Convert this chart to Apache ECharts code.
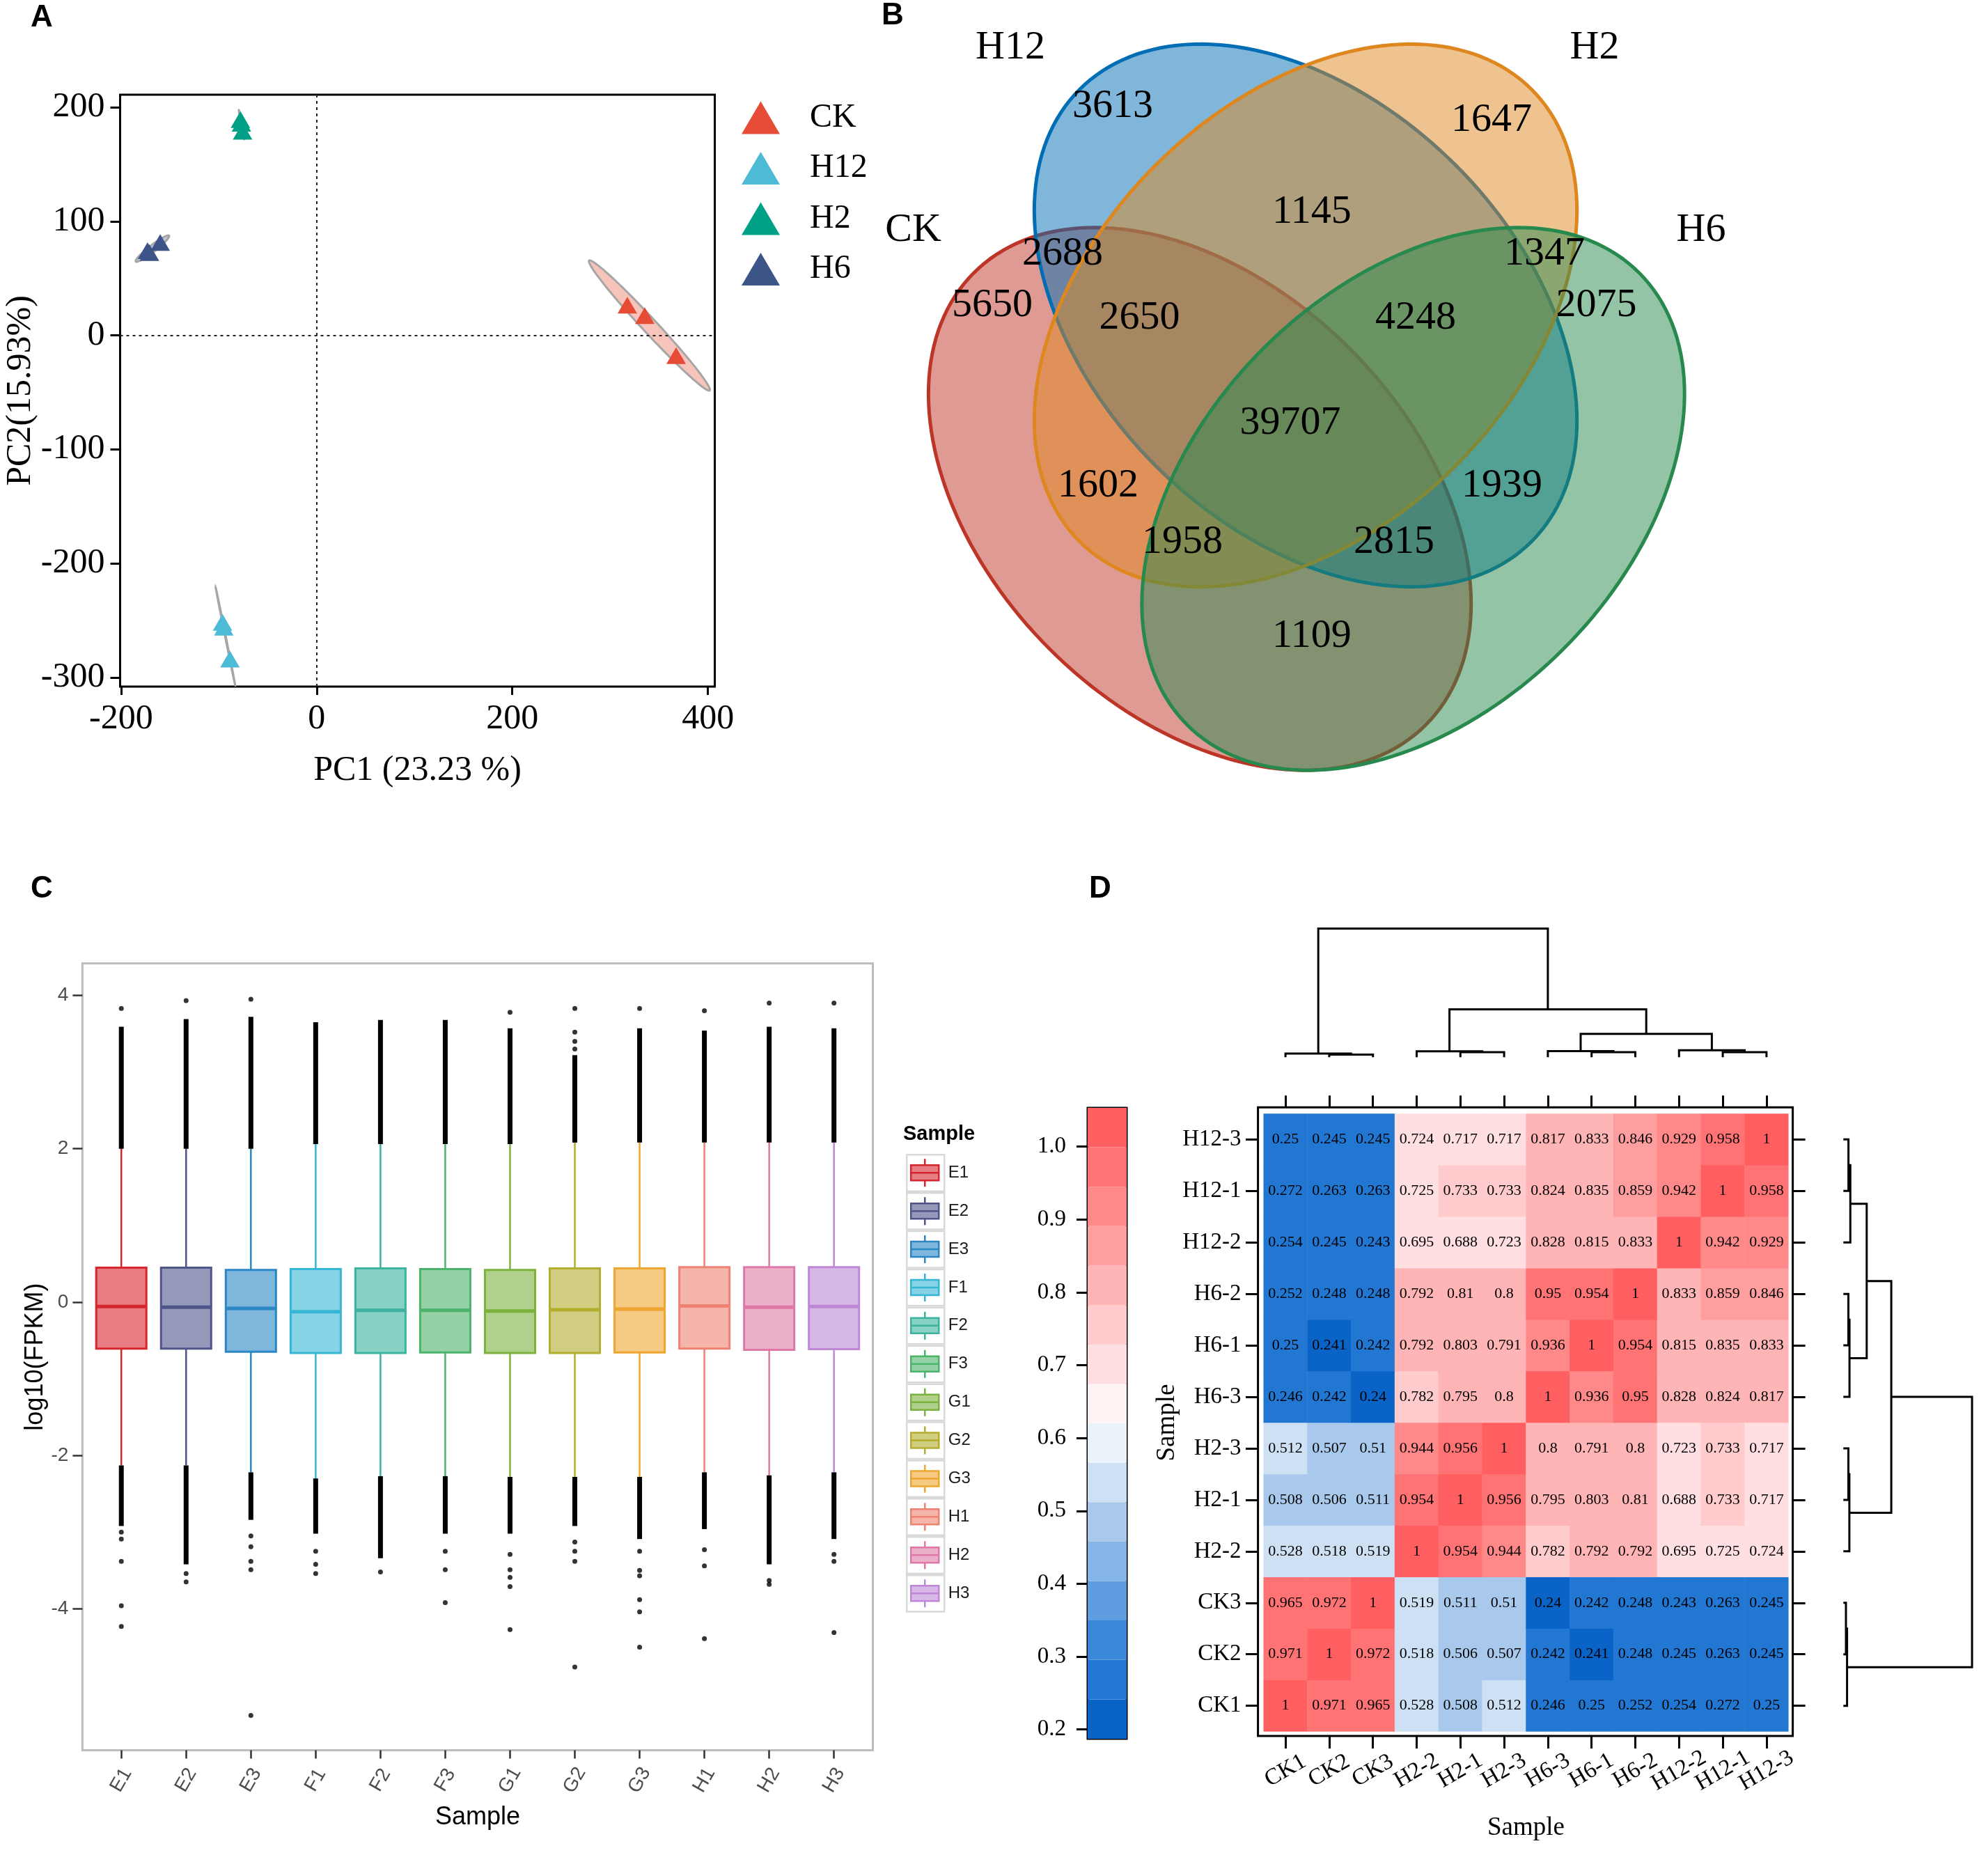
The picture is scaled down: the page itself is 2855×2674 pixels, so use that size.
<!DOCTYPE html>
<html><head><meta charset="utf-8">
<script src="https://cdn.jsdelivr.net/npm/echarts@6/dist/echarts.min.js"></script>
<style>html,body{margin:0;padding:0;background:#fff;}#main{width:2855px;height:2674px;}</style>
</head><body><div id="main"></div>
<script>
// ---------------- Panel A : PCA ----------------
const pcaGroups = ['CK', 'H12', 'H2', 'H6'];
const pcaCK  = [[317.6, 26.4], [335.4, 17.3], [367.5, -17.8]];
const pcaH12 = [[-96.3, -251.7], [-95.0, -256.0], [-88.7, -283.9]];
const pcaH2  = [[-78.0, 189.2], [-77.0, 186.0], [-75.8, 179.0]];
const pcaH6  = [[-173.0, 74.2], [-171.0, 72.5], [-160.0, 81.4]];
const pcaXTicks = [-200, 0, 200, 400];
const pcaYTicks = [-300, -200, -100, 0, 100, 200];
const pcaXName = 'PC1 (23.23 %)';
const pcaYName = 'PC2(15.93%)';

// ---------------- Panel B : Venn ----------------
const vennSets = ['CK', 'H12', 'H2', 'H6'];
const vennRegions = ['H12', 'H2', 'H12&H2', 'CK&H12', 'H2&H6', 'CK', 'CK&H12&H2', 'H12&H2&H6', 'H6',
  'CK&H12&H2&H6', 'CK&H2', 'H12&H6', 'CK&H2&H6', 'CK&H12&H6', 'CK&H6'];
const vennCounts = [3613, 1647, 1145, 2688, 1347, 5650, 2650, 4248, 2075, 39707, 1602, 1939, 1958, 2815, 1109];

// ---------------- Panel C : boxplot ----------------
const boxSamples = ['E1', 'E2', 'E3', 'F1', 'F2', 'F3', 'G1', 'G2', 'G3', 'H1', 'H2', 'H3'];
const boxLowWhisker  = [-2.13, -2.13, -2.22, -2.30, -2.27, -2.27, -2.28, -2.28, -2.28, -2.22, -2.26, -2.22];
const boxQ1          = [-0.606, -0.606, -0.647, -0.664, -0.664, -0.656, -0.664, -0.664, -0.656, -0.606, -0.622, -0.614];
const boxMedian      = [-0.058, -0.066, -0.083, -0.125, -0.108, -0.108, -0.116, -0.100, -0.091, -0.050, -0.066, -0.058];
const boxQ3          = [0.448, 0.448, 0.420, 0.430, 0.440, 0.430, 0.420, 0.440, 0.440, 0.456, 0.456, 0.456];
const boxHighWhisker = [2.00, 2.00, 2.00, 2.06, 2.06, 2.06, 2.06, 2.08, 2.08, 2.08, 2.08, 2.08];
const boxDenseHigh   = [3.59, 3.69, 3.72, 3.65, 3.68, 3.68, 3.57, 3.22, 3.57, 3.54, 3.59, 3.57];
const boxDenseLow    = [-2.92, -3.42, -2.84, -3.02, -3.34, -3.02, -3.02, -2.92, -3.09, -2.96, -3.42, -3.09];
const boxOutliers = [
  [0, 3.83], [0, -3.00], [0, -3.09], [0, -3.38], [0, -3.96], [0, -4.23],
  [1, 3.93], [1, -3.54], [1, -3.65],
  [2, 3.95], [2, -3.05], [2, -3.19], [2, -3.38], [2, -3.49], [2, -5.39],
  [3, -3.25], [3, -3.42], [3, -3.54],
  [4, -3.52],
  [5, -3.25], [5, -3.49], [5, -3.92],
  [6, 3.78], [6, -3.29], [6, -3.49], [6, -3.59], [6, -3.71], [6, -4.27],
  [7, 3.83], [7, 3.52], [7, 3.40], [7, 3.30], [7, -3.13], [7, -3.25], [7, -3.38], [7, -4.76],
  [8, 3.83], [8, -3.25], [8, -3.50], [8, -3.57], [8, -3.88], [8, -4.04], [8, -4.50],
  [9, 3.80], [9, -3.23], [9, -3.44], [9, -4.39],
  [10, 3.90], [10, -3.63], [10, -3.68],
  [11, 3.90], [11, -3.29], [11, -3.38], [11, -4.31]
];
const boxYTicks = [-4, -2, 0, 2, 4];

// ---------------- Panel D : correlation heatmap ----------------
const corrSamples = ['CK1', 'CK2', 'CK3', 'H2-2', 'H2-1', 'H2-3', 'H6-3', 'H6-1', 'H6-2', 'H12-2', 'H12-1', 'H12-3'];
// rows listed bottom (CK1) to top (H12-3); columns in corrSamples order
const corrCK1  = [1, 0.971, 0.965, 0.528, 0.508, 0.512, 0.246, 0.25, 0.252, 0.254, 0.272, 0.25];
const corrCK2  = [0.971, 1, 0.972, 0.518, 0.506, 0.507, 0.242, 0.241, 0.248, 0.245, 0.263, 0.245];
const corrCK3  = [0.965, 0.972, 1, 0.519, 0.511, 0.51, 0.24, 0.242, 0.248, 0.243, 0.263, 0.245];
const corrH2_2 = [0.528, 0.518, 0.519, 1, 0.954, 0.944, 0.782, 0.792, 0.792, 0.695, 0.725, 0.724];
const corrH2_1 = [0.508, 0.506, 0.511, 0.954, 1, 0.956, 0.795, 0.803, 0.81, 0.688, 0.733, 0.717];
const corrH2_3 = [0.512, 0.507, 0.51, 0.944, 0.956, 1, 0.8, 0.791, 0.8, 0.723, 0.733, 0.717];
const corrH6_3 = [0.246, 0.242, 0.24, 0.782, 0.795, 0.8, 1, 0.936, 0.95, 0.828, 0.824, 0.817];
const corrH6_1 = [0.25, 0.241, 0.242, 0.792, 0.803, 0.791, 0.936, 1, 0.954, 0.815, 0.835, 0.833];
const corrH6_2 = [0.252, 0.248, 0.248, 0.792, 0.81, 0.8, 0.95, 0.954, 1, 0.833, 0.859, 0.846];
const corrH12_2 = [0.254, 0.245, 0.243, 0.695, 0.688, 0.723, 0.828, 0.815, 0.833, 1, 0.942, 0.929];
const corrH12_1 = [0.272, 0.263, 0.263, 0.725, 0.733, 0.733, 0.824, 0.835, 0.859, 0.942, 1, 0.958];
const corrH12_3 = [0.25, 0.245, 0.245, 0.724, 0.717, 0.717, 0.817, 0.833, 0.846, 0.929, 0.958, 1];
const corrBreaks = [0.1873, 0.2414, 0.2955, 0.3497, 0.4038, 0.4579, 0.5120, 0.5661, 0.6202, 0.6744,
  0.7285, 0.7826, 0.8367, 0.8909, 0.9450, 0.9991, 1.0532];
const corrTicks = [0.2, 0.3, 0.4, 0.5, 0.6, 0.7, 0.8, 0.9, 1.0];
// hierarchical clustering: [childA, childB, height]; leaves 0..11 = corrSamples, merges numbered from 12
const dendroMerges = [
  [1, 2, 3.7], [0, 12, 5.3], [4, 5, 7.2], [3, 14, 8.6], [7, 8, 7.2], [6, 16, 8.8],
  [10, 11, 7.3], [9, 18, 10.0], [17, 19, 33.5], [15, 20, 68.8], [13, 21, 184.8]
];

// ================= styles / layout =================
const SERIF = 'Liberation Serif';
const SANS = 'Liberation Sans';
const pcaColors = ['#E64B35', '#4DBBD5', '#00A087', '#3C5488'];
const vennColors = ['#BD3527', '#006DB5', '#DF871F', '#27894D'];
const boxColors = ['#D7262E', '#4F5489', '#2A86C5', '#35B6D5', '#3BB39F', '#4CB36A', '#7CB23E', '#B3AE2D', '#EEA631', '#EF8372', '#DE79A7', '#BE88D6'];
const bandColors = ['#0A64C8', '#2277D3', '#3B88D9', '#5E9DDF', '#85B4E6', '#A9C9EC', '#CEE0F3', '#EAF2FA',
  '#FFF3F3', '#FFDFE1', '#FFCBCC', '#FFB4B5', '#FF9E9F', '#FF8889', '#FF7374', '#FF5F60'];
// Venn template geometry (normalized panel units)
const vennGeom = {
  CK: [0.3647, 0.6004, 45], H12: [0.4957, 0.3733, 45], H2: [0.4957, 0.3733, -45], H6: [0.6289, 0.6004, -45]
};
const vennAxes = [0.3957, 0.2629];
const vennSetLabelPos = { H12: [0.1302, 0.0422], H2: [0.8534, 0.0422], CK: [0.010, 0.2681], H6: [0.9853, 0.2681] };
const vennRegionPos = {
  'H12': [0.2569, 0.1147], 'H2': [0.7259, 0.1319], 'H12&H2': [0.5034, 0.2457], 'CK&H12': [0.1948, 0.2974],
  'H2&H6': [0.7914, 0.2974], 'CK': [0.1078, 0.3612], 'CK&H12&H2': [0.2901, 0.3767], 'H12&H2&H6': [0.6319, 0.3767],
  'H6': [0.8556, 0.3612], 'CK&H12&H2&H6': [0.4767, 0.5069], 'CK&H2': [0.2388, 0.5845], 'H12&H6': [0.7388, 0.5845],
  'CK&H2&H6': [0.3431, 0.6543], 'CK&H12&H6': [0.6052, 0.6543], 'CK&H6': [0.5034, 0.7707]
};

function rgba(hex, a) {
  const n = parseInt(hex.slice(1), 16);
  return 'rgba(' + ((n >> 16) & 255) + ',' + ((n >> 8) & 255) + ',' + (n & 255) + ',' + a + ')';
}

// 95% normal confidence ellipse from a set of points
function ellipseFromPoints(pts, k, n) {
  const m = pts.length;
  let mx = 0, my = 0;
  pts.forEach(p => { mx += p[0]; my += p[1]; });
  mx /= m; my /= m;
  let sxx = 0, syy = 0, sxy = 0;
  pts.forEach(p => { const dx = p[0] - mx, dy = p[1] - my; sxx += dx * dx; syy += dy * dy; sxy += dx * dy; });
  sxx /= (m - 1); syy /= (m - 1); sxy /= (m - 1);
  const tr = (sxx + syy) / 2, d = Math.sqrt(((sxx - syy) / 2) ** 2 + sxy * sxy);
  const l1 = tr + d, l2 = Math.max(tr - d, 0);
  const ang = 0.5 * Math.atan2(2 * sxy, sxx - syy);
  const out = [];
  for (let i = 0; i < n; i++) {
    const t = 2 * Math.PI * i / n;
    const ex = k * Math.sqrt(l1) * Math.cos(t), ey = k * Math.sqrt(l2) * Math.sin(t);
    out.push([mx + ex * Math.cos(ang) - ey * Math.sin(ang), my + ex * Math.sin(ang) + ey * Math.cos(ang)]);
  }
  return out;
}

const pcaPoints = [pcaCK, pcaH12, pcaH2, pcaH6];
const corrMatrix = [corrCK1, corrCK2, corrCK3, corrH2_2, corrH2_1, corrH2_3, corrH6_3, corrH6_1, corrH6_2, corrH12_2, corrH12_1, corrH12_3];

function dendroSegments(merges, nLeaves) {
  const pos = [], hgt = [];
  for (let i = 0; i < nLeaves; i++) { pos[i] = i; hgt[i] = 0; }
  return merges.map((m, j) => {
    const a = m[0], b = m[1], h = m[2], id = nLeaves + j;
    pos[id] = (pos[a] + pos[b]) / 2; hgt[id] = h;
    return [pos[a], hgt[a], pos[b], hgt[b], h];
  });
}
const dendroSegs = dendroSegments(dendroMerges, corrSamples.length);

const series = [];
// ---- A: ellipses
series.push({
  type: 'custom', name: 'pca-ellipse', xAxisIndex: 0, yAxisIndex: 0, clip: true, z: 2, silent: true,
  data: pcaGroups.map((g, i) => [i]),
  renderItem: function (params, api) {
    const gi = api.value(0);
    const pts = ellipseFromPoints(pcaPoints[gi], 2.4477, 120).map(p => api.coord(p));
    return { type: 'polygon', shape: { points: pts }, style: { fill: rgba(pcaColors[gi], 0.33), stroke: '#A6A6A6', lineWidth: 3 } };
  }
});
pcaGroups.forEach((g, i) => {
  const s = {
    type: 'scatter', name: g, xAxisIndex: 0, yAxisIndex: 0, symbol: 'triangle', symbolSize: [28, 24], z: 3,
    itemStyle: { color: pcaColors[i], opacity: 1 }, data: pcaPoints[i]
  };
  if (i === 0) {
    s.markLine = {
      silent: true, symbol: ['none', 'none'], label: { show: false },
      lineStyle: { type: [4, 5], color: '#222', width: 2 },
      data: [{ xAxis: 0 }, { yAxis: 0 }]
    };
  }
  series.push(s);
});

// ---- B: Venn
series.push({
  type: 'custom', name: 'venn-ellipses', xAxisIndex: 1, yAxisIndex: 1, silent: true, z: 2,
  data: vennSets.map((s, i) => [i]),
  renderItem: function (params, api) {
    const si = api.value(0);
    const g = vennGeom[vennSets[si]];
    const th = g[2] * Math.PI / 180;
    const pts = [];
    for (let i = 0; i < 180; i++) {
      const t = 2 * Math.PI * i / 180;
      const ex = vennAxes[0] * Math.cos(t), ey = vennAxes[1] * Math.sin(t);
      pts.push(api.coord([g[0] + ex * Math.cos(th) - ey * Math.sin(th), g[1] + ex * Math.sin(th) + ey * Math.cos(th)]));
    }
    return { type: 'polygon', shape: { points: pts }, style: { fill: rgba(vennColors[si], 0.5), stroke: vennColors[si], lineWidth: 5 } };
  }
});
series.push({
  type: 'custom', name: 'venn-text', xAxisIndex: 1, yAxisIndex: 1, silent: true, z: 5,
  data: vennRegions.map((r, i) => [vennRegionPos[r][0], vennRegionPos[r][1], vennCounts[i]])
    .concat(vennSets.map(s => [vennSetLabelPos[s][0], vennSetLabelPos[s][1], s])),
  renderItem: function (params, api) {
    const p = api.coord([api.value(0), api.value(1)]);
    const item = params.dataIndex < vennRegions.length ? String(vennCounts[params.dataIndex]) : vennSets[params.dataIndex - vennRegions.length];
    return { type: 'text', x: p[0], y: p[1], style: { text: item, font: '58px "' + SERIF + '"', fill: '#000', align: 'center', verticalAlign: 'middle' } };
  }
});

// ---- C: boxplots
boxSamples.forEach((s, i) => {
  const col = boxColors[i];
  series.push({
    type: 'custom', name: s, xAxisIndex: 2, yAxisIndex: 2, z: 3,
    itemStyle: { color: rgba(col, 0.6), borderColor: col, borderWidth: 2.5 },
    data: [[i + 1, boxLowWhisker[i], boxQ1[i], boxMedian[i], boxQ3[i], boxHighWhisker[i], boxDenseLow[i], boxDenseHigh[i]]],
    renderItem: function (params, api) {
      const x = api.value(0);
      const pLo = api.coord([x, api.value(1)]), pQ1 = api.coord([x, api.value(2)]), pMed = api.coord([x, api.value(3)]);
      const pQ3 = api.coord([x, api.value(4)]), pHi = api.coord([x, api.value(5)]);
      const pDLo = api.coord([x, api.value(6)]), pDHi = api.coord([x, api.value(7)]);
      const w = api.size([0.774, 0])[0];
      const cx = pMed[0];
      return {
        type: 'group', children: [
          { type: 'line', shape: { x1: cx, y1: pQ3[1], x2: cx, y2: pHi[1] }, style: { stroke: col, lineWidth: 2.5 } },
          { type: 'line', shape: { x1: cx, y1: pQ1[1], x2: cx, y2: pLo[1] }, style: { stroke: col, lineWidth: 2.5 } },
          { type: 'rect', shape: { x: cx - 3.5, y: pDHi[1], width: 7, height: pHi[1] - pDHi[1] }, style: { fill: '#000' } },
          { type: 'rect', shape: { x: cx - 3.5, y: pLo[1], width: 7, height: pDLo[1] - pLo[1] }, style: { fill: '#000' } },
          { type: 'rect', shape: { x: cx - w / 2, y: pQ3[1], width: w, height: pQ1[1] - pQ3[1] }, style: { fill: rgba(col, 0.6), stroke: col, lineWidth: 3 } },
          { type: 'line', shape: { x1: cx - w / 2, y1: pMed[1], x2: cx + w / 2, y2: pMed[1] }, style: { stroke: col, lineWidth: 5 } }
        ]
      };
    }
  });
});
series.push({
  type: 'scatter', name: 'outliers', xAxisIndex: 2, yAxisIndex: 2, symbol: 'circle', symbolSize: 7, z: 4, silent: true,
  itemStyle: { color: '#000' }, data: boxOutliers.map(o => [o[0] + 1, o[1]])
});

// ---- D: heatmap + dendrograms + colour bar
const heatData = [];
corrMatrix.forEach((row, r) => row.forEach((v, c) => heatData.push([c, r, v])));
const heatIndex = series.length;
series.push({
  type: 'heatmap', xAxisIndex: 4, yAxisIndex: 4, data: heatData, z: 3,
  itemStyle: { borderWidth: 0 },
  label: { show: true, fontSize: 22, fontFamily: SERIF, color: '#000', formatter: p => String(p.value[2]) },
  emphasis: { disabled: true }
});
series.push({
  type: 'custom', name: 'dendro-top', xAxisIndex: 6, yAxisIndex: 6, silent: true, data: dendroSegs,
  renderItem: function (params, api) {
    const a = api.value(0), ha = api.value(1), b = api.value(2), hb = api.value(3), h = api.value(4);
    return { type: 'polyline', shape: { points: [api.coord([a, ha]), api.coord([a, h]), api.coord([b, h]), api.coord([b, hb])] }, style: { stroke: '#000', lineWidth: 3, fill: null } };
  }
});
series.push({
  type: 'custom', name: 'dendro-right', xAxisIndex: 7, yAxisIndex: 7, silent: true, data: dendroSegs,
  renderItem: function (params, api) {
    const a = api.value(0), ha = api.value(1), b = api.value(2), hb = api.value(3), h = api.value(4);
    return { type: 'polyline', shape: { points: [api.coord([ha, a]), api.coord([h, a]), api.coord([h, b]), api.coord([hb, b])] }, style: { stroke: '#000', lineWidth: 3, fill: null } };
  }
});
series.push({
  type: 'custom', name: 'colorbar', xAxisIndex: 8, yAxisIndex: 8, silent: true,
  data: bandColors.map((c, i) => [corrBreaks[i], corrBreaks[i + 1]]),
  renderItem: function (params, api) {
    const p0 = api.coord([0, api.value(0)]), p1 = api.coord([1, api.value(1)]);
    return { type: 'rect', shape: { x: p0[0], y: p1[1], width: p1[0] - p0[0], height: p0[1] - p1[1] }, style: { fill: bandColors[params.dataIndex] } };
  }
});

const hidden = (gi, extra) => Object.assign({ gridIndex: gi, type: 'value', show: false }, extra || {});
const serifAxisLabel = { fontFamily: SERIF, fontSize: 33, color: '#000' };
const noLine = { show: false, onZero: false };

const option = {
  animation: false,
  backgroundColor: '#fff',
  title: [
    { text: 'A', left: 44, top: 4, padding: 0, textStyle: { fontFamily: SANS, fontWeight: 'bold', fontSize: 44, color: '#000' } },
    { text: 'B', left: 1266, top: 1, padding: 0, textStyle: { fontFamily: SANS, fontWeight: 'bold', fontSize: 44, color: '#000' } },
    { text: 'C', left: 44, top: 1255, padding: 0, textStyle: { fontFamily: SANS, fontWeight: 'bold', fontSize: 44, color: '#000' } },
    { text: 'D', left: 1564, top: 1255, padding: 0, textStyle: { fontFamily: SANS, fontWeight: 'bold', fontSize: 44, color: '#000' } },
    { text: 'Sample', left: 1297, top: 1614, padding: 0, textStyle: { fontFamily: SANS, fontWeight: 'bold', fontSize: 29, color: '#000' } }
  ],
  legend: [
    {
      data: pcaGroups, orient: 'vertical', left: 1060, top: 140, itemWidth: 55, itemHeight: 47, itemGap: 24.5,
      icon: 'triangle', selectedMode: false,
      textStyle: { fontFamily: SERIF, fontSize: 48, color: '#000', padding: [0, 0, 0, 38] }
    },
    {
      // grey key frames behind the boxplot legend keys
      data: boxSamples.map(s => ({ name: s, itemStyle: { color: '#fff', borderColor: '#D9D9D9', borderWidth: 2.5 } })),
      orient: 'vertical', left: 1296, top: 1652, itemWidth: 54, itemHeight: 52.4, itemGap: 0, selectedMode: false,
      icon: 'rect', z: 3, formatter: () => '', textStyle: { fontSize: 1 }
    },
    {
      data: boxSamples.map((s, i) => ({ name: s, itemStyle: { color: rgba(boxColors[i], 0.6), borderColor: boxColors[i], borderWidth: 2.5 } })),
      orient: 'vertical', left: 1302, top: 1658, itemWidth: 41, itemHeight: 40, itemGap: 12.4, selectedMode: false, z: 4,
      icon: 'path://M0,9L40,9L40,31L0,31Z M0,20L40,20 M20,0L20,9 M20,31L20,40',
      textStyle: { fontFamily: SANS, fontSize: 24, color: '#1a1a1a', padding: [0, 0, 0, 8] }
    }
  ],
  visualMap: {
    type: 'piecewise', show: false, seriesIndex: heatIndex, dimension: 2,
    pieces: bandColors.map((c, i) => ({ gte: corrBreaks[i], lt: corrBreaks[i + 1], color: c }))
  },
  grid: [
    { left: 172.5, top: 136, width: 854, height: 850, show: true, borderColor: '#000', borderWidth: 3, backgroundColor: '#fff' },
    { left: 1300, top: 20, width: 1160, height: 1160 },
    { left: 118.4, top: 1383.6, width: 1135.1, height: 1130, show: true, borderColor: '#BDBDBD', borderWidth: 3, backgroundColor: '#fff' },
    { left: 1806.6, top: 1590.3, width: 768, height: 902.7, show: true, borderColor: '#000', borderWidth: 3, backgroundColor: '#fff' },
    { left: 1814.7, top: 1599.4, width: 753.6, height: 887.2 },
    { left: 1814.7, top: 1333.5, width: 753.6, height: 184.8 },
    { left: 2647.3, top: 1599.4, width: 184.8, height: 887.2 },
    { left: 1562, top: 1591, width: 56, height: 906, show: true, borderColor: '#000', borderWidth: 3 }
  ],
  xAxis: [
    {
      gridIndex: 0, type: 'value', min: -201, max: 407, splitLine: { show: false },
      axisLine: noLine,
      axisTick: { show: true, customValues: pcaXTicks, length: 12, lineStyle: { color: '#000', width: 3 } },
      axisLabel: { customValues: pcaXTicks, fontFamily: SERIF, fontSize: 50, color: '#000', margin: 22 },
      name: pcaXName, nameLocation: 'middle', nameGap: 96, nameTextStyle: { fontFamily: SERIF, fontSize: 50, color: '#000' }
    },
    hidden(1, { min: 0, max: 1 }),
    {
      gridIndex: 2, type: 'value', min: 0.4, max: 12.6, splitLine: { show: false }, axisLine: noLine,
      axisTick: { show: true, customValues: boxSamples.map((s, i) => i + 1), length: 12, lineStyle: { color: '#333', width: 2.5 } },
      axisLabel: {
        customValues: boxSamples.map((s, i) => i + 1), formatter: v => boxSamples[Math.round(v) - 1], rotate: 60,
        align: 'center', verticalAlign: 'middle', fontFamily: SANS, fontSize: 28, color: '#4D4D4D', margin: 43
      },
      name: 'Sample', nameLocation: 'middle', nameGap: 78, nameTextStyle: { fontFamily: SANS, fontSize: 36, color: '#000' }
    },
    hidden(3, { min: 0, max: 1 }),
    {
      gridIndex: 4, type: 'category', data: corrSamples, position: 'bottom', offset: 6.4,
      axisLine: noLine, axisTick: { show: true, alignWithLabel: true, length: 18, lineStyle: { color: '#000', width: 3 } },
      axisLabel: Object.assign({ rotate: 30, align: 'center', verticalAlign: 'middle', margin: 50, interval: 0 }, serifAxisLabel),
      name: 'Sample', nameLocation: 'middle', nameGap: 114, nameTextStyle: { fontFamily: SERIF, fontSize: 37, color: '#000' }
    },
    {
      gridIndex: 4, type: 'category', data: corrSamples, position: 'top', offset: 9.1,
      axisLine: noLine, axisTick: { show: true, alignWithLabel: true, length: 17, lineStyle: { color: '#000', width: 3 } },
      axisLabel: { show: false }
    },
    hidden(5, { min: -0.5, max: 11.5 }),
    hidden(6, { min: 0, max: 184.8 }),
    hidden(7, { min: 0, max: 1 })
  ],
  yAxis: [
    {
      gridIndex: 0, type: 'value', min: -308, max: 211, splitLine: { show: false }, axisLine: noLine,
      axisTick: { show: true, customValues: pcaYTicks, length: 14, lineStyle: { color: '#000', width: 3 } },
      axisLabel: { customValues: pcaYTicks, fontFamily: SERIF, fontSize: 50, color: '#000', margin: 22 },
      name: pcaYName, nameLocation: 'middle', nameGap: 118, nameTextStyle: { fontFamily: SERIF, fontSize: 50, color: '#000' }
    },
    hidden(1, { min: 0, max: 1, inverse: true }),
    {
      gridIndex: 2, type: 'value', min: -5.845, max: 4.416, splitLine: { show: false }, axisLine: noLine,
      axisTick: { show: true, customValues: boxYTicks, length: 14, lineStyle: { color: '#333', width: 2.5 } },
      axisLabel: { customValues: boxYTicks, fontFamily: SANS, fontSize: 28, color: '#4D4D4D', margin: 20 },
      name: 'log10(FPKM)', nameLocation: 'middle', nameGap: 49, nameTextStyle: { fontFamily: SANS, fontSize: 36, color: '#000' }
    },
    hidden(3, { min: 0, max: 1 }),
    {
      gridIndex: 4, type: 'category', data: corrSamples, position: 'left', offset: 8.1,
      axisLine: noLine, axisTick: { show: true, alignWithLabel: true, length: 17.6, lineStyle: { color: '#000', width: 3 } },
      axisLabel: Object.assign({ margin: 24, interval: 0 }, serifAxisLabel),
      name: 'Sample', nameLocation: 'middle', nameGap: 112, nameTextStyle: { fontFamily: SERIF, fontSize: 37, color: '#000' }
    },
    {
      gridIndex: 4, type: 'category', data: corrSamples, position: 'right', offset: 6.3,
      axisLine: noLine, axisTick: { show: true, alignWithLabel: true, length: 18, lineStyle: { color: '#000', width: 3 } },
      axisLabel: { show: false }
    },
    hidden(5, { min: 0, max: 184.8 }),
    hidden(6, { min: -0.5, max: 11.5 }),
    {
      gridIndex: 7, type: 'value', min: 0.1873, max: 1.0532, splitLine: { show: false }, axisLine: noLine,
      axisTick: { show: true, customValues: corrTicks, length: 16, lineStyle: { color: '#000', width: 3 } },
      axisLabel: { customValues: corrTicks, formatter: v => v.toFixed(1), fontFamily: SERIF, fontSize: 33, color: '#000', margin: 31 }
    }
  ],
  series: series
};

const chart = echarts.init(document.getElementById('main'), null, { renderer: 'canvas', width: 2855, height: 2674 });
chart.setOption(option);
</script>
</body></html>
